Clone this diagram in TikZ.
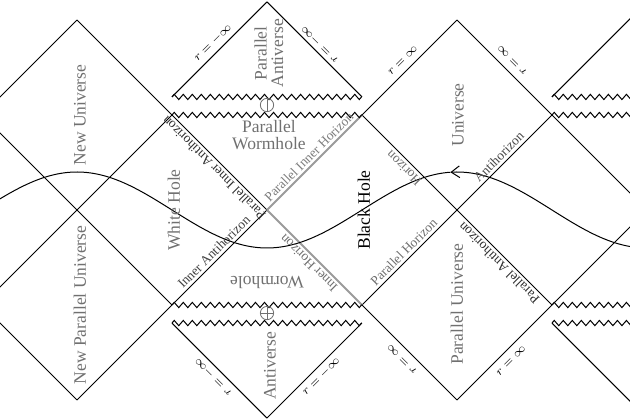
\documentclass[tikz,border=0pt]{standalone}
\usepackage{fontspec}
\setmainfont{Liberation Serif}
\usepackage{tikz}
\usetikzlibrary{arrows.meta,decorations.pathmorphing}
\definecolor{RegionGray}{RGB}{112,112,112}
\definecolor{EdgeGray}{RGB}{110,110,110}
\definecolor{EdgeDark}{RGB}{45,45,45}
\definecolor{HorGray}{RGB}{155,155,155}

\begin{document}
\begin{tikzpicture}[x=2cm,y=2cm,
wall/.style={line width=0.6pt},
hor/.style={draw=HorGray,line width=1.1pt},
sing/.style={line width=0.6pt,decorate,decoration={zigzag,segment length=1.9mm,amplitude=0.55mm}},
region/.style={text=RegionGray,font=\fontsize{10.5}{10}\selectfont,align=center,inner sep=0pt},
edgelbl/.style={text=EdgeGray,font=\fontsize{8}{9}\selectfont,inner sep=0pt},
rlbl/.style={font=\fontsize{7}{8}\selectfont,inner sep=0pt},
chargesym/.style={draw=RegionGray,line width=0.5pt}
]
\useasboundingbox (-2.8105,-2.2105) rectangle (3.8211,2.2105);
\clip (-2.8105,-2.2105) rectangle (3.8211,2.2105);

% lattice points
\coordinate (o) at (0,0);
\coordinate (wt) at (-1,1);
\coordinate (wb) at (-1,-1);
\coordinate (bt) at (1,1);
\coordinate (bb) at (1,-1);
\coordinate (br) at (2,0);
\coordinate (wl) at (-2,0);
\coordinate (ut) at (2,2);
\coordinate (ur) at (3,1);
\coordinate (pub) at (2,-2);
\coordinate (pur) at (3,-1);
\coordinate (nut) at (-2,2);
\coordinate (npub) at (-2,-2);
\coordinate (pat) at (0,2.19);
\coordinate (pal) at (-1,1.19);
\coordinate (par) at (1,1.19);
\coordinate (ab) at (0,-2.19);
\coordinate (al) at (-1,-1.19);
\coordinate (ar) at (1,-1.19);

% null lines going down to the right
\draw[wall] (nut) -- (wt) -- (o);
\draw[wall] (bb) -- (pub);
\draw[wall] (ut) -- (ur) -- (4,0);
\draw[wall] (bt) -- (br) -- (pur);
\draw[wall] (-3,1) -- (wl) -- (wb);
\draw[wall] (-3,-1) -- (npub);
\draw[wall] (pat) -- (par);
\draw[wall] (al) -- (ab);
\draw[wall] (3,-1.19) -- (4,-2.19);
% null lines going up to the right
\draw[wall] (-3,1) -- (nut);
\draw[wall] (-3,-1) -- (wl) -- (wt);
\draw[wall] (npub) -- (wb) -- (o);
\draw[wall] (bt) -- (ut);
\draw[wall] (bb) -- (br) -- (ur);
\draw[wall] (pub) -- (pur) -- (4,0);
\draw[wall] (pal) -- (pat);
\draw[wall] (ab) -- (ar);
\draw[wall] (3,1.19) -- (4,2.19);
% inner horizons
\draw[hor] (o) -- (bt);
\draw[hor] (o) -- (bb);

% singularities
\draw[sing] (pal) -- (par);
\draw[sing] (wt) -- (bt);
\draw[sing] (wb) -- (bb);
\draw[sing] (al) -- (ar);
\draw[sing] (3,1.19) -- (4.2,1.19);
\draw[sing] (ur) -- (4.2,1);
\draw[sing] (pur) -- (4.2,-1);
\draw[sing] (3,-1.19) -- (4.2,-1.19);

% r = 0 ring signs
\draw[chargesym] (0,1.105) circle (0.07);
\draw[chargesym] (0,1.035) -- (0,1.175);
\draw[chargesym] (0,-1.085) circle (0.07);
\draw[chargesym] (0,-1.155) -- (0,-1.015) (-0.07,-1.085) -- (0.07,-1.085);

% world line
\draw[wall] plot[domain=-2.9:1.93,samples=140] (\x,{0.4*cos(90*(\x-2))});
\draw[wall,-{Straight Barb[length=5pt,width=7pt]}] plot[domain=3.9:1.93,samples=60] (\x,{0.4*cos(90*(\x-2))});

% regions
\node[region,rotate=90] (nu) at (-1.97,1) {New Universe};
\node[region,rotate=90] (npu) at (-1.97,-1) {New Parallel Universe};
\node[region,rotate=90] (wh) at (-0.98,0) {White Hole};
\node[region,rotate=90,text=black] (bh) at (1.02,0) {Black Hole};
\node[region,rotate=90] (uni) at (2.01,1) {Universe};
\node[region,rotate=90] (puni) at (2.0,-0.99) {Parallel Universe};
\node[region] (pwh) at (0.02,0.79) {Parallel\\Wormhole};
\node[region,rotate=180] (wrm) at (0,-0.76) {Wormhole};
\node[region,rotate=90] (panti) at (0.02,1.65) {Parallel\\Antiverse};
\node[region,rotate=90] (anti) at (0.03,-1.64) {Antiverse};

% horizons
\node[edgelbl,rotate=135,text=EdgeDark] (pia) at (-0.56,0.44) {Parallel Inner Antihorizon};
\node[edgelbl,rotate=45,text=EdgeDark!70!EdgeGray] (ia) at (-0.56,-0.44) {Inner Antihorizon};
\node[edgelbl,rotate=45,text=HorGray!80!black] (pih) at (0.44,0.56) {Parallel Inner Horizon};
\node[edgelbl,rotate=135] (ih) at (0.44,-0.56) {Inner Horizon};
\node[edgelbl,rotate=135] (hz) at (1.44,0.44) {Horizon};
\node[edgelbl,rotate=45] (phz) at (1.44,-0.44) {Parallel Horizon};
\node[edgelbl,rotate=45,text=EdgeDark!60!EdgeGray] (ahz) at (2.44,0.56) {Antihorizon};
\node[edgelbl,rotate=135,text=EdgeDark] (pahz) at (2.44,-0.56) {Parallel Antihorizon};

% infinities
\node[rlbl,rotate=45] (ra) at (-0.57,1.76) {$r = -\infty$};
\node[rlbl,rotate=135] (rb) at (0.55,1.74) {$r = -\infty$};
\node[rlbl,rotate=135] (rc) at (-0.57,-1.76) {$r = -\infty$};
\node[rlbl,rotate=45] (rd) at (0.57,-1.75) {$r = -\infty$};
\node[rlbl,rotate=45] (re) at (1.43,1.57) {$r = \infty$};
\node[rlbl,rotate=135] (rf) at (2.58,1.58) {$r = \infty$};
\node[rlbl,rotate=135] (rg) at (1.42,-1.57) {$r = \infty$};
\node[rlbl,rotate=45] (rh) at (2.57,-1.59) {$r = \infty$};
\end{tikzpicture}
\end{document}
